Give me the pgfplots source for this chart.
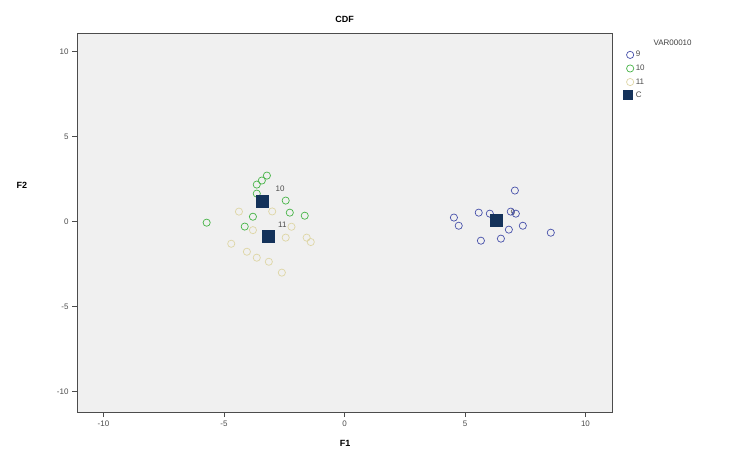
\documentclass[border=0pt]{standalone}
\usepackage{pgfplots}
\pgfplotsset{compat=1.18}
\usepackage{fontspec}
\setmainfont{Liberation Sans}
\definecolor{bgc}{RGB}{240,240,240}
\definecolor{cnine}{RGB}{70,80,170}
\definecolor{cten}{RGB}{70,180,70}
\definecolor{celeven}{RGB}{222,214,165}
\definecolor{ccent}{RGB}{20,50,90}
\begin{document}
\begin{tikzpicture}
\useasboundingbox (0pt,0pt) rectangle (739pt,450pt);
\begin{axis}[
  at={(77pt,38pt)}, anchor=south west,
  scale only axis, width=535pt, height=379pt,
  xmin=-11.1, xmax=11.1, ymin=-11.2, ymax=11.1,
  axis background/.style={fill=bgc},
  axis line style={draw=black!70, line width=0.8pt},
  xtick={-10,-5,0,5,10}, ytick={-10,-5,0,5,10},
  tick align=outside, tick pos=left,
  major tick length=5pt,
  tick style={black!70, line width=0.8pt},
  ticklabel style={font=\fontsize{8}{9}\selectfont, text=black!70},
  /pgf/number format/assume math mode=true,
  title={\textbf{CDF}}, title style={font=\fontsize{9}{10}\selectfont, yshift=1pt},
  legend style={at={(axis description cs:1.018,0.96)}, anchor=north west, draw=none, fill=white,
    font=\fontsize{8}{9}\selectfont, row sep=2.5pt, inner sep=1pt, text=black!70},
  legend cell align=left,
  clip=false,
]
\addplot[only marks, mark=o, mark size=3.6pt, cnine, line width=0.7pt] coordinates {
(7.07,1.83) (4.54,0.24) (4.74,-0.24) (5.57,0.53) (6.03,0.47) (6.90,0.59)
(7.11,0.47) (7.40,-0.24) (6.82,-0.47) (6.49,-1.0) (5.66,-1.12) (8.56,-0.65)
};
\addlegendentry{9}
\addplot[only marks, mark=o, mark size=3.6pt, cten, line width=0.7pt] coordinates {
(-3.22,2.71) (-3.43,2.42) (-3.64,2.18) (-3.64,1.65) (-2.44,1.24) (-2.27,0.53)
(-1.65,0.35) (-3.80,0.29) (-4.14,-0.29) (-5.72,-0.06)
};
\addlegendentry{10}
\addplot[only marks, mark=o, mark size=3.6pt, celeven, line width=0.7pt] coordinates {
(-4.38,0.59) (-4.70,-1.30) (-4.05,-1.77) (-3.64,-2.12) (-3.14,-2.36) (-2.60,-3.00)
(-2.44,-0.94) (-1.57,-0.94) (-3.80,-0.50) (-2.20,-0.30) (-1.40,-1.20) (-3.00,0.60)
};
\addlegendentry{11}
\addplot[only marks, mark=square*, mark size=6pt, ccent, mark options={fill=ccent, draw=ccent},
  legend image code/.code={\fill[ccent] (0.05cm,-4pt) rectangle (0.05cm+9pt,5pt);}] coordinates {
(6.28,0.06) (-3.43,1.18) (-3.18,-0.88)
};
\addlegendentry{C}
\node[font=\fontsize{8}{9}\selectfont, text=black!70, anchor=west] at (axis cs:6.75,0.55) {9};
\node[font=\fontsize{8}{9}\selectfont, text=black!70, anchor=west] at (axis cs:-3.0,1.95) {10};
\node[font=\fontsize{8}{9}\selectfont, text=black!70, anchor=west] at (axis cs:-2.9,-0.2) {11};
\end{axis}
\node[font=\fontsize{8}{9}\selectfont, text=black!75, anchor=west] at (650pt,407pt) {VAR00010};
\node[font=\bfseries\fontsize{9}{10}\selectfont] at (345pt,7pt) {F1};
\node[font=\bfseries\fontsize{9}{10}\selectfont] at (22pt,265pt) {F2};
\end{tikzpicture}
\end{document}
